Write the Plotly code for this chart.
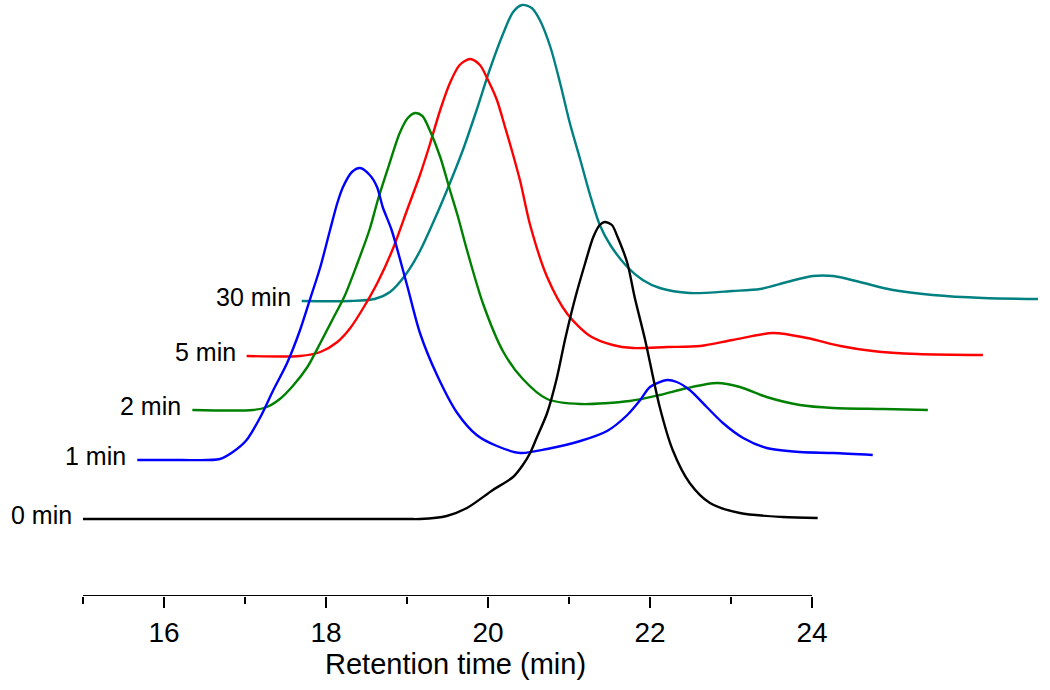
import plotly.graph_objects as go

# ---- data (retention time in min, detector signal in arbitrary units) ----
t_0min = [15.0, 16.0, 17.0, 18.0, 19.0, 19.16, 19.49, 19.74, 20.06, 20.31, 20.43, 20.52, 20.60, 20.73, 20.85,
          20.95, 21.07, 21.20, 21.30, 21.38, 21.44, 21.53, 21.60, 21.72, 21.81, 21.94, 22.12, 22.28, 22.49,
          22.74, 23.11, 23.64, 24.07]
s_0min = [0.77, 0.77, 0.77, 0.77, 0.77, 0.77, 0.80, 0.88, 1.06, 1.19, 1.31, 1.43, 1.58, 1.83, 2.18,
          2.56, 2.96, 3.33, 3.59, 3.71, 3.74, 3.71, 3.59, 3.33, 2.99, 2.56, 1.89, 1.46, 1.13,
          0.93, 0.83, 0.79, 0.78]

t_1min = [15.67, 16.20, 16.69, 16.85, 17.02, 17.19, 17.35, 17.52, 17.68, 17.80, 17.93, 18.05, 18.14, 18.21,
          18.32, 18.42, 18.54, 18.63, 18.70, 18.81, 19.00, 19.16, 19.37, 19.62, 19.86, 20.11, 20.40, 20.73,
          21.14, 21.47, 21.72, 21.88, 22.00, 22.21, 22.33, 22.49, 22.70, 22.90, 23.15, 23.44, 23.85, 24.26,
          24.75]
s_1min = [1.36, 1.36, 1.37, 1.44, 1.56, 1.79, 2.06, 2.33, 2.66, 2.96, 3.29, 3.66, 3.93, 4.09,
          4.24, 4.28, 4.21, 4.09, 3.89, 3.66, 3.11, 2.63, 2.21, 1.83, 1.61, 1.50, 1.43, 1.47,
          1.55, 1.65, 1.81, 1.96, 2.09, 2.16, 2.14, 2.06, 1.89, 1.73, 1.58, 1.48, 1.44, 1.43,
          1.41]

t_2min = [16.35, 17.10, 17.27, 17.43, 17.59, 17.77, 17.93, 18.09, 18.23, 18.38, 18.54, 18.64, 18.77, 18.91,
          19.01, 19.10, 19.19, 19.28, 19.41, 19.53, 19.63, 19.74, 19.94, 20.19, 20.43, 20.73, 21.14, 21.75,
          22.12, 22.46, 22.83, 23.11, 23.44, 23.85, 24.26, 24.88, 25.43]
s_2min = [1.86, 1.86, 1.89, 1.97, 2.10, 2.29, 2.53, 2.78, 3.00, 3.31, 3.67, 3.96, 4.29, 4.63,
          4.78, 4.83, 4.80, 4.66, 4.39, 4.06, 3.79, 3.46, 2.92, 2.44, 2.17, 1.97, 1.92, 1.95,
          2.01, 2.08, 2.13, 2.09, 1.99, 1.91, 1.88, 1.87, 1.86]

t_5min = [17.02, 17.68, 17.93, 18.14, 18.30, 18.46, 18.64, 18.83, 19.01, 19.16, 19.28, 19.41, 19.53, 19.65,
          19.78, 19.90, 20.00, 20.11, 20.21, 20.30, 20.40, 20.52, 20.73, 20.98, 21.26, 21.54, 21.79, 22.21,
          22.62, 23.02, 23.52, 23.94, 24.35, 24.75, 25.30, 26.11]
s_5min = [2.40, 2.40, 2.44, 2.54, 2.68, 2.88, 3.14, 3.48, 3.88, 4.21, 4.51, 4.86, 5.13, 5.31,
          5.37, 5.31, 5.16, 4.96, 4.69, 4.44, 4.14, 3.71, 3.19, 2.82, 2.60, 2.51, 2.48, 2.49,
          2.50, 2.56, 2.63, 2.58, 2.50, 2.45, 2.42, 2.41]

t_30min = [17.70, 18.30, 18.60, 18.79, 18.98, 19.16, 19.38, 19.53, 19.69, 19.86, 20.02, 20.19, 20.31, 20.42,
           20.54, 20.64, 20.77, 20.89, 21.01, 21.14, 21.26, 21.38, 21.51, 21.72, 21.91, 22.12, 22.49, 23.02,
           23.36, 23.69, 24.01, 24.26, 24.59, 25.00, 25.49, 26.11, 26.79]
s_30min = [2.95, 2.95, 2.97, 3.04, 3.21, 3.45, 3.84, 4.13, 4.46, 4.86, 5.26, 5.63, 5.84, 5.91,
           5.88, 5.76, 5.49, 5.13, 4.73, 4.36, 4.01, 3.71, 3.51, 3.29, 3.16, 3.08, 3.03, 3.05,
           3.07, 3.14, 3.20, 3.20, 3.14, 3.06, 3.01, 2.98, 2.97]

series_names = ["30 min", "5 min", "2 min", "1 min", "0 min"]
series_t = [t_30min, t_5min, t_2min, t_1min, t_0min]
series_s = [s_30min, s_5min, s_2min, s_1min, s_0min]
series_colors = ["#008080", "#FF0000", "#008000", "#0000FF", "#000000"]

major_ticks = [16, 18, 20, 22, 24]
minor_ticks = [15, 17, 19, 21, 23]
x_title = "Retention time (min)"

FONT = "Liberation Sans, Arial, sans-serif"

fig = go.Figure()
for name, t, s, c in zip(series_names, series_t, series_s, series_colors):
    fig.add_trace(go.Scatter(x=t, y=s, mode="lines", name=name,
                             line=dict(color=c, width=2.4, shape="spline", smoothing=0.8),
                             showlegend=False, hoverinfo="skip"))
    fig.add_annotation(x=t[0], y=s[0], xref="x", yref="y", text=name, showarrow=False,
                       xanchor="right", yanchor="middle", xshift=-9, yshift=4,
                       font=dict(family=FONT, size=25, color="#000000"))

# axis line only spanning the labelled range
fig.add_shape(type="line", xref="x", yref="y", x0=minor_ticks[0], x1=major_ticks[-1], y0=0, y1=0,
              line=dict(color="black", width=2))

fig.add_annotation(x=(minor_ticks[0] + major_ticks[-1]) / 2 + 0.1, y=0, xref="x", yref="paper",
                   text=x_title, showarrow=False, xanchor="center", yanchor="middle", yshift=-68,
                   font=dict(family=FONT, size=29, color="#000000"))

fig.update_layout(
    width=1050, height=690,
    margin=dict(l=83, r=0, t=0, b=94),
    paper_bgcolor="white", plot_bgcolor="white",
    xaxis=dict(range=[15, 15 + 967 / 81], showgrid=False, zeroline=False, showline=False,
               tickmode="array", tickvals=major_ticks, ticktext=[str(v) for v in major_ticks],
               ticks="outside", ticklen=11, tickwidth=2, tickcolor="black",
               tickfont=dict(family=FONT, size=28, color="#000000"),
               minor=dict(tickmode="array", tickvals=minor_ticks, ticks="outside", ticklen=7,
                          tickwidth=2, tickcolor="black", showgrid=False)),
    yaxis=dict(range=[0, 5.96], visible=False, showgrid=False, zeroline=False),
)

# remove the default page margin so the 1050x690 figure fills the window exactly
fig.write_html("out.html", config={"displayModeBar": False},
               post_script="document.body.style.margin='0px';")
